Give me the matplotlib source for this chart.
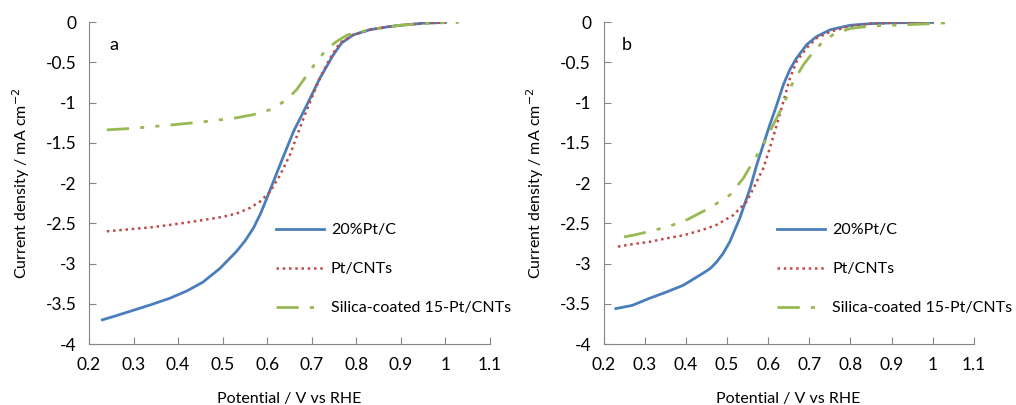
import matplotlib.pyplot as plt

plt.rcParams['font.family'] = ['Lato', 'DejaVu Sans']

# panel a
xa_ptc = [0.23, 0.26, 0.3, 0.34, 0.382, 0.42, 0.456, 0.494, 0.531, 0.55, 0.569, 0.585, 0.599, 0.629, 0.659,
          0.689, 0.718, 0.748, 0.767, 0.793, 0.83, 0.87, 0.9, 0.95, 1.0]
ya_ptc = [-3.70, -3.65, -3.58, -3.51, -3.43, -3.34, -3.23, -3.06, -2.85, -2.72, -2.56, -2.38, -2.19, -1.77, -1.36,
          -1.03, -0.70, -0.41, -0.26, -0.16, -0.096, -0.06, -0.04, -0.015, -0.005]
xa_cnt = [0.24, 0.3, 0.34, 0.382, 0.42, 0.456, 0.5, 0.531, 0.561, 0.584, 0.606, 0.629, 0.651,
          0.673, 0.696, 0.718, 0.741, 0.763, 0.793, 0.83, 0.87, 0.9, 0.95, 1.0]
ya_cnt = [-2.60, -2.57, -2.55, -2.52, -2.49, -2.46, -2.42, -2.38, -2.31, -2.23, -2.11, -1.90, -1.65,
          -1.32, -0.99, -0.70, -0.45, -0.26, -0.16, -0.096, -0.06, -0.04, -0.015, -0.005]
xa_sil = [0.24, 0.3, 0.34, 0.382, 0.456, 0.531, 0.569, 0.606, 0.643, 0.666, 0.689, 0.711, 0.733,
          0.756, 0.78, 0.83, 0.87, 0.9, 0.95, 1.0, 1.03]
ya_sil = [-1.34, -1.32, -1.30, -1.28, -1.24, -1.19, -1.15, -1.09, -0.97, -0.84, -0.66, -0.49, -0.34,
          -0.24, -0.16, -0.096, -0.06, -0.04, -0.02, -0.008, -0.005]

# panel b
xb_ptc = [0.23, 0.27, 0.313, 0.35, 0.394, 0.442, 0.46, 0.475, 0.49, 0.507, 0.531, 0.556, 0.572, 0.588, 0.604,
          0.621, 0.637, 0.653, 0.669, 0.694, 0.718, 0.751, 0.8, 0.85, 0.9, 1.0]
yb_ptc = [-3.56, -3.52, -3.43, -3.36, -3.27, -3.12, -3.06, -2.98, -2.88, -2.73, -2.44, -2.07, -1.78, -1.53, -1.28,
          -1.03, -0.78, -0.59, -0.45, -0.28, -0.18, -0.096, -0.04, -0.02, -0.01, -0.005]
xb_cnt = [0.235, 0.27, 0.313, 0.35, 0.394, 0.442, 0.475, 0.515, 0.548, 0.564, 0.588, 0.604, 0.621,
          0.637, 0.653, 0.669, 0.694, 0.718, 0.751, 0.8, 0.85, 0.9, 1.0]
yb_cnt = [-2.79, -2.76, -2.73, -2.69, -2.65, -2.58, -2.52, -2.40, -2.23, -2.07, -1.82, -1.57, -1.28,
          -0.99, -0.70, -0.49, -0.32, -0.20, -0.12, -0.05, -0.02, -0.01, -0.005]
xb_sil = [0.25, 0.28, 0.313, 0.35, 0.394, 0.458, 0.507, 0.54, 0.564, 0.588, 0.612, 0.637, 0.661,
          0.686, 0.71, 0.734, 0.76, 0.8, 0.85, 0.9, 0.95, 1.0, 1.03]
yb_sil = [-2.67, -2.64, -2.60, -2.55, -2.48, -2.31, -2.15, -1.94, -1.73, -1.53, -1.28, -1.03, -0.74,
          -0.53, -0.37, -0.24, -0.15, -0.08, -0.05, -0.04, -0.03, -0.02, -0.01]

labels = ['20%Pt/C', 'Pt/CNTs', 'Silica-coated 15-Pt/CNTs']
colors = ['#4A7EBB', '#BE4B48', '#98B954']
xticks = [0.2, 0.3, 0.4, 0.5, 0.6, 0.7, 0.8, 0.9, 1.0, 1.1]
xticklabels = ['0.2', '0.3', '0.4', '0.5', '0.6', '0.7', '0.8', '0.9', '1', '1.1']
yticks = [0, -0.5, -1, -1.5, -2, -2.5, -3, -3.5, -4]
yticklabels = ['0', '-0.5', '-1', '-1.5', '-2', '-2.5', '-3', '-3.5', '-4']

fig = plt.figure(figsize=(10.16, 4.05), dpi=100)
ax1 = fig.add_axes([0.0876, 0.1506, 0.3947, 0.795])
ax2 = fig.add_axes([0.594, 0.1506, 0.3645, 0.795])

panels = [
    (ax1, 'a', [(xa_ptc, ya_ptc), (xa_cnt, ya_cnt), (xa_sil, ya_sil)]),
    (ax2, 'b', [(xb_ptc, yb_ptc), (xb_cnt, yb_cnt), (xb_sil, yb_sil)]),
]

for ax, tag, series in panels:
    (x1, y1), (x2, y2), (x3, y3) = series
    ax.plot(x1, y1, color=colors[0], lw=2, label=labels[0])
    ax.plot(x2, y2, color=colors[1], lw=1.8, ls=(0, (1, 1.5)), label=labels[1])
    ax.plot(x3, y3, color=colors[2], lw=2, ls=(0, (8, 4, 1.5, 4, 1.5, 4)), label=labels[2])
    ax.set_xlim(0.2, 1.1)
    ax.set_ylim(-4, 0)
    ax.set_xticks(xticks)
    ax.set_xticklabels(xticklabels)
    ax.set_yticks(yticks)
    ax.set_yticklabels(yticklabels)
    ax.tick_params(direction='in', length=5, color='#868686', labelsize=12.5, pad=9)
    for s in ['top', 'right']:
        ax.spines[s].set_visible(False)
    for s in ['left', 'bottom']:
        ax.spines[s].set_color('#868686')
    ax.set_xlabel('Potential / V vs RHE', fontsize=11.5, labelpad=14)
    ax.set_ylabel('Current density / mA cm$^{-2}$', fontsize=11.5, labelpad=10)
    ax.text(0.05, 0.93, tag, transform=ax.transAxes, fontsize=13, va='center')
    ax.legend(loc='upper left', bbox_to_anchor=(0.43, 0.42), frameon=False,
              fontsize=11.5, handlelength=3.0, labelspacing=1.55, handletextpad=0.45)

fig.savefig('out.png')
